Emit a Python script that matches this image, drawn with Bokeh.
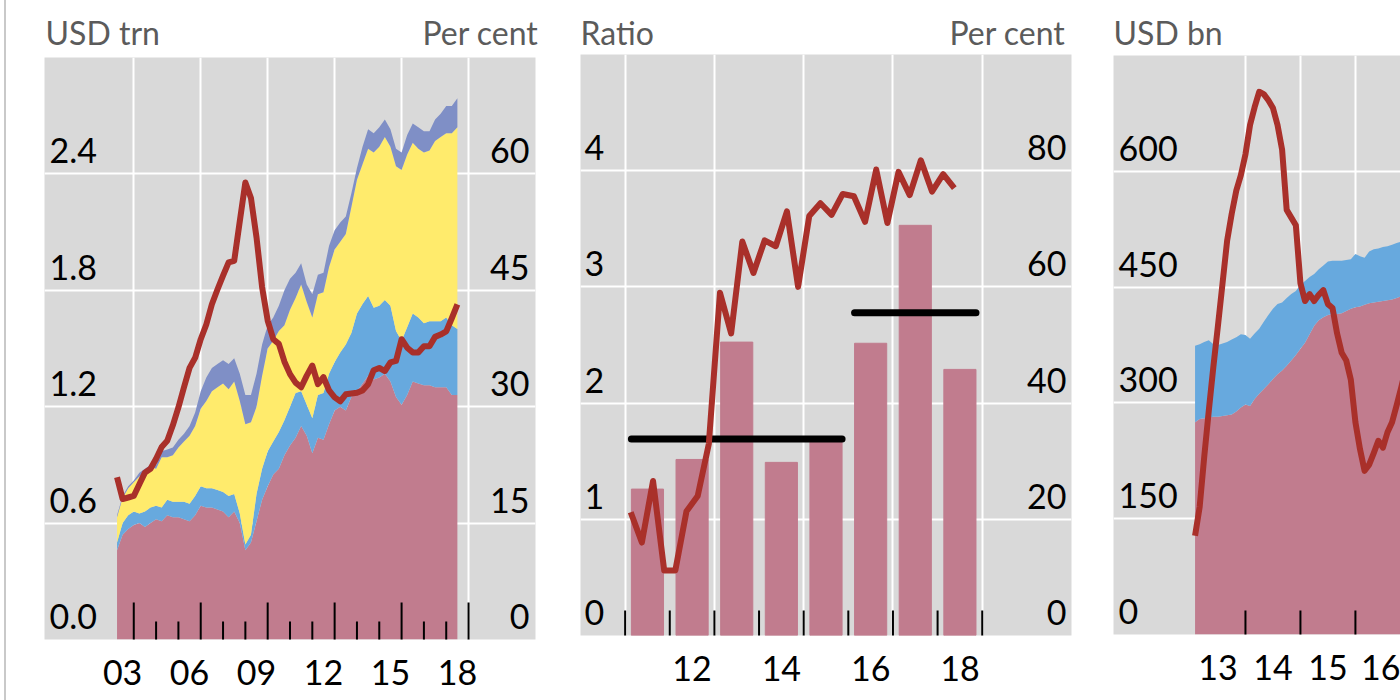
import math

from bokeh.plotting import figure
from bokeh.models import (Range1d, LinearAxis, FixedTicker, ColumnDataSource,
                          Spacer, Grid)
from bokeh.layouts import row, column
from bokeh.core.properties import value
from bokeh.embed import file_html
from bokeh.resources import INLINE

FONT = "Lato"
BG = "#D9D9D9"
PINK = "#C17C8E"
BLUE = "#67A9DE"
YELLOW = "#FFEB6C"
PURPLE = "#7F8FC6"
RED = "#A9302A"
TITLE_GREY = "#5B5B5B"

# ---------------- Panel 1: quarterly stock (USD trn) and share (per cent) ----------------
P1_FIRST_YEAR = 2003
P1_QUARTERS = [(P1_FIRST_YEAR + i // 4, i % 4 + 1) for i in range(62)]  # 2003Q1 .. 2018Q2
P1_PINK = [0.46, 0.54, 0.57, 0.59, 0.60, 0.58, 0.60, 0.62, 0.61, 0.64,
           0.63, 0.63, 0.62, 0.61, 0.64, 0.69, 0.68, 0.68, 0.67, 0.66,
           0.63, 0.66, 0.60, 0.46, 0.50, 0.61, 0.72, 0.79, 0.85, 0.88,
           0.95, 1.00, 1.04, 1.10, 1.05, 0.96, 1.04, 1.03, 1.11, 1.18,
           1.20, 1.18, 1.25, 1.28, 1.32, 1.36, 1.34, 1.35, 1.37, 1.33,
           1.25, 1.21, 1.26, 1.33, 1.32, 1.31, 1.31, 1.30, 1.30, 1.30,
           1.26, 1.26]
P1_BLUE = [0.04, 0.06, 0.07, 0.07, 0.05, 0.08, 0.08, 0.07, 0.07, 0.08,
           0.08, 0.08, 0.09, 0.09, 0.10, 0.10, 0.10, 0.10, 0.10, 0.10,
           0.11, 0.09, 0.05, 0.03, 0.04, 0.14, 0.16, 0.18, 0.17, 0.19,
           0.18, 0.20, 0.23, 0.18, 0.16, 0.18, 0.22, 0.24, 0.26, 0.25,
           0.28, 0.34, 0.33, 0.40, 0.41, 0.41, 0.37, 0.37, 0.38, 0.39,
           0.34, 0.33, 0.35, 0.35, 0.34, 0.32, 0.33, 0.34, 0.34, 0.36,
           0.36, 0.34]
P1_YELLOW = [0.13, 0.13, 0.14, 0.15, 0.19, 0.20, 0.21, 0.19, 0.26, 0.22,
             0.24, 0.28, 0.31, 0.35, 0.36, 0.40, 0.45, 0.50, 0.53, 0.56,
             0.55, 0.58, 0.58, 0.62, 0.58, 0.45, 0.48, 0.53, 0.52, 0.52,
             0.49, 0.50, 0.49, 0.55, 0.53, 0.52, 0.52, 0.52, 0.55, 0.58,
             0.57, 0.57, 0.65, 0.69, 0.72, 0.76, 0.80, 0.82, 0.84, 0.82,
             0.85, 0.88, 0.89, 0.88, 0.87, 0.88, 0.88, 0.93, 0.95, 0.95,
             0.99, 1.04]
P1_PURPLE = [0.01, 0.01, 0.01, 0.01, 0.02, 0.02, 0.01, 0.02, 0.03, 0.04,
             0.04, 0.04, 0.04, 0.05, 0.07, 0.09, 0.12, 0.12, 0.12, 0.12,
             0.13, 0.12, 0.14, 0.15, 0.14, 0.17, 0.16, 0.12, 0.12, 0.13,
             0.18, 0.16, 0.13, 0.11, 0.09, 0.12, 0.10, 0.10, 0.11, 0.10,
             0.10, 0.09, 0.07, 0.06, 0.09, 0.10, 0.10, 0.10, 0.09, 0.09,
             0.09, 0.09, 0.10, 0.10, 0.11, 0.11, 0.10, 0.11, 0.12, 0.14,
             0.14, 0.15]
P1_SHARE = [20.9, 18.1, 18.3, 18.5, 20.0, 21.5, 22.0, 23.3, 24.8, 25.6,
            27.6, 29.9, 32.5, 35.0, 36.3, 38.7, 40.6, 43.2, 45.1, 46.9,
            48.6, 48.8, 53.9, 58.9, 56.9, 51.8, 45.4, 41.1, 38.7, 38.1,
            35.8, 34.2, 33.1, 32.5, 34.0, 35.3, 32.9, 33.8, 32.1, 31.2,
            30.7, 31.6, 31.7, 31.8, 32.1, 32.9, 34.7, 35.0, 34.6, 35.7,
            35.9, 38.7, 37.6, 37.0, 37.0, 37.8, 37.8, 39.0, 39.3, 39.7,
            41.4, 43.2]
P1_LEFT_TICKS = [0.0, 0.6, 1.2, 1.8, 2.4]
P1_LEFT_LABELS = ["0.0", "0.6", "1.2", "1.8", "2.4"]
P1_RIGHT_TICKS = [0, 15, 30, 45, 60]
P1_RIGHT_LABELS = ["0", "15", "30", "45", "60"]
P1_YEAR_LABELS = ["03", "06", "09", "12", "15", "18"]

# ---------------- Panel 2: quarterly ratio and annual shares ----------------
P2_QUARTERS = [(2011 + i // 4, i % 4 + 1) for i in range(30)]  # 2011Q1 .. 2018Q2
P2_RATIO = [1.06, 0.80, 1.33, 0.56, 0.56, 1.07, 1.20, 1.65, 2.95, 2.60,
            3.39, 3.12, 3.40, 3.35, 3.65, 3.00, 3.61, 3.72, 3.62, 3.80,
            3.78, 3.56, 4.01, 3.55, 3.99, 3.79, 4.09, 3.82, 3.97, 3.85]
P2_BAR_YEARS = [2011, 2012, 2013, 2014, 2015, 2016, 2017, 2018]
P2_BAR_PCT = [25.2, 30.3, 50.5, 29.8, 33.4, 50.3, 70.6, 45.8]
P2_PERIODS = [(2011, 2015), (2016, 2018)]  # periods averaged by the black lines
P2_LEFT_TICKS = [0, 1, 2, 3, 4]
P2_LEFT_LABELS = ["0", "1", "2", "3", "4"]
P2_RIGHT_TICKS = [0, 20, 40, 60, 80]
P2_RIGHT_LABELS = ["0", "20", "40", "60", "80"]
P2_YEAR_LABELS = ["12", "14", "16", "18"]

# ---------------- Panel 3: monthly amounts (USD bn) ----------------
P3_MONTHS = [(2013 + i // 12, i % 12 + 1) for i in range(48)]  # Jan 2013 .. Dec 2016
P3_PINK = [275, 279, 280, 281, 282, 282, 283, 284, 285, 289,
           294, 298, 296, 305, 312, 318, 324, 331, 337, 342,
           348, 355, 362, 370, 378, 389, 400, 407, 411, 414,
           415, 415, 416, 419, 422, 424, 425, 427, 429, 430,
           431, 432, 433, 434, 436, 438, 440, 441]
P3_BLUE = [99, 97, 99, 100, 94, 93, 94, 95, 97, 96,
           95, 90, 87, 85, 84, 87, 90, 91, 91, 88,
           88, 86, 83, 83, 80, 74, 67, 66, 67, 69,
           69, 69, 68, 66, 64, 69, 65, 61, 67, 69,
           69, 70, 70, 71, 71, 71, 71, 72]
P3_LINE = [128, 165, 230, 290, 347, 400, 455, 510, 545, 575,
           595, 622, 660, 683, 703, 700, 692, 682, 660, 628,
           550, 540, 530, 455, 432, 441, 432, 440, 446, 428,
           423, 390, 365, 355, 330, 275, 240, 212, 220, 235,
           251, 242, 262, 275, 297, 320, 345, 370]
P3_LEFT_TICKS = [0, 150, 300, 450, 600]
P3_LEFT_LABELS = ["0", "150", "300", "450", "600"]
P3_YEAR_LABELS = ["13", "14", "15", "16", "17"]

# ---------------- layout constants (pixels) ----------------
PAGE_H = 700
INDENT = 6          # white gap plus the thin rule at the left edge
HEADER_H = 54       # strip holding the unit captions
CAPTION_MID = 33    # vertical middle of the captions, from the page top
FRAME_W = 491
W1, TOP1, BOT1, L1, R1 = 552, 57, 639, 38, 23
W2, TOP2, BOT2, L2, R2 = 532, 54, 635, 22, 19
W3, TOP3, BOT3, L3 = 310, 55, 634, 23


def header():
    width = W1 + W2 + W3
    h = figure(width=width, height=HEADER_H,
               x_range=Range1d(0, width), y_range=Range1d(0, HEADER_H),
               x_axis_type=None, y_axis_type=None, title=None,
               toolbar_location=None, output_backend="svg",
               background_fill_color="white", border_fill_color="white",
               outline_line_color=None, min_border=0)
    items = [
        (L1 + 1, "USD trn", "left"),
        (L1 + FRAME_W + 3, "Per cent", "right"),
        (W1 + L2, "Ratio", "left"),
        (W1 + L2 + FRAME_W - 6, "Per cent", "right"),
        (W1 + W2 + L3, "USD bn", "left"),
    ]
    h.text(x=[it[0] for it in items], y=[HEADER_H - CAPTION_MID + 1] * len(items),
           text=[it[1] for it in items], text_align=[it[2] for it in items],
           text_baseline="alphabetic", text_font=value(FONT),
           text_font_size="32px", text_color=TITLE_GREY)
    return h


def panel(width, x_range, y_range, border_left, border_right, frame_top, frame_bottom):
    return figure(width=width, height=PAGE_H - HEADER_H,
                  x_range=x_range, y_range=y_range,
                  x_axis_type=None, y_axis_type=None, title=None,
                  toolbar_location=None, output_backend="svg",
                  background_fill_color=BG, border_fill_color="white",
                  outline_line_color=None,
                  min_border_left=border_left, min_border_right=border_right,
                  min_border_top=frame_top - HEADER_H,
                  min_border_bottom=PAGE_H - frame_bottom)


def add_grid(p, xs, ys):
    p.add_layout(Grid(dimension=0, ticker=FixedTicker(ticks=xs),
                      grid_line_color="white", grid_line_width=2))
    p.add_layout(Grid(dimension=1, ticker=FixedTicker(ticks=ys),
                      grid_line_color="white", grid_line_width=2))


def add_year_ticks(p, years, length):
    # vertical dashes centred on the bottom edge; the frame clips the lower half
    p.scatter(x=years, y=[p.y_range.start] * len(years), marker="dash",
              size=2 * length, angle=math.pi / 2,
              line_color="black", line_width=2)


def add_year_labels(p, label_years, labels, standoff):
    positions = [y + 0.5 for y in label_years]
    axis = LinearAxis(ticker=FixedTicker(ticks=positions, minor_ticks=[]),
                      major_label_overrides={pos: lab for pos, lab in zip(positions, labels)},
                      axis_line_color=None,
                      major_tick_line_color=None, minor_tick_line_color=None,
                      major_tick_in=0, major_tick_out=0,
                      major_label_standoff=standoff,
                      major_label_text_font=FONT,
                      major_label_text_font_size="34px",
                      major_label_text_color="black")
    p.add_layout(axis, "below")


def add_value_labels(p, x, ticks, labels, align, x_off, range_name="default"):
    p.text(x=[x] * len(ticks), y=ticks, text=labels,
           text_align=align, text_baseline="alphabetic",
           x_offset=x_off, y_offset=-23,
           text_font=value(FONT), text_font_size="34px", text_color="black",
           y_range_name=range_name)


# ---------------- Panel 1 ----------------
p1x = Range1d(2000, 2022)
p1y = Range1d(0, 3.0)
p1 = panel(W1, p1x, p1y, L1, R1, TOP1, BOT1)
p1.extra_y_ranges = {"pct": Range1d(0, 75)}
add_grid(p1, list(range(2004, 2020, 3)), P1_LEFT_TICKS[1:])

src1 = ColumnDataSource(dict(
    x=[y + q / 4 for y, q in P1_QUARTERS],
    pink=P1_PINK, blue=P1_BLUE, yellow=P1_YELLOW, purple=P1_PURPLE,
    share=P1_SHARE))
p1.varea_stack(stackers=["pink", "blue", "yellow", "purple"], x="x",
               color=[PINK, BLUE, YELLOW, PURPLE], source=src1)
p1.line(x="x", y="share", source=src1, line_color=RED, line_width=6,
        line_join="round", y_range_name="pct")

add_year_ticks(p1, list(range(2004, 2020, 3)), 37)
add_year_ticks(p1, [y for y in range(2005, 2019) if (y - 2004) % 3], 18)
add_year_labels(p1, list(range(2003, 2019, 3)), P1_YEAR_LABELS, 20)
add_value_labels(p1, p1x.start, P1_LEFT_TICKS, P1_LEFT_LABELS, "left", 5)
add_value_labels(p1, p1x.end, P1_RIGHT_TICKS, P1_RIGHT_LABELS, "right", -6, "pct")

# ---------------- Panel 2 ----------------
p2x = Range1d(2010, 2021)
p2y = Range1d(0, 5)
p2 = panel(W2, p2x, p2y, L2, R2, TOP2, BOT2)
p2.extra_y_ranges = {"pct": Range1d(0, 100)}
add_grid(p2, list(range(2011, 2020, 2)), P2_LEFT_TICKS[1:])

bar_width = 0.72
p2.vbar(x=[y + 0.5 for y in P2_BAR_YEARS], top=P2_BAR_PCT, width=bar_width,
        color=PINK, y_range_name="pct")

avg_x0, avg_x1, avg_y = [], [], []
for first, last in P2_PERIODS:
    vals = [v for yr, v in zip(P2_BAR_YEARS, P2_BAR_PCT) if first <= yr <= last]
    avg_x0.append(first + 0.5 - bar_width / 2)
    avg_x1.append(last + 0.5 + bar_width / 2)
    avg_y.append(sum(vals) / len(vals))
p2.segment(x0=avg_x0, y0=avg_y, x1=avg_x1, y1=avg_y, line_color="black",
           line_width=7, line_cap="round", y_range_name="pct")

p2.line(x=[y + (q - 0.5) / 4 for y, q in P2_QUARTERS], y=P2_RATIO,
        line_color=RED, line_width=6, line_join="round")

add_year_ticks(p2, list(range(2011, 2020)), 25)
add_year_labels(p2, list(range(2012, 2019, 2)), P2_YEAR_LABELS, 20)
add_value_labels(p2, p2x.start, P2_LEFT_TICKS, P2_LEFT_LABELS, "left", 4)
add_value_labels(p2, p2x.end, P2_RIGHT_TICKS, P2_RIGHT_LABELS, "right", -5, "pct")

# ---------------- Panel 3 ----------------
p3x = Range1d(2011.6, 2016.82)
p3y = Range1d(0, 750)
p3 = panel(W3, p3x, p3y, L3, 0, TOP3, BOT3)
add_grid(p3, list(range(2014, 2021)), P3_LEFT_TICKS[1:])

src3 = ColumnDataSource(dict(
    x=[y + m / 12 for y, m in P3_MONTHS],
    pink=P3_PINK, blue=P3_BLUE, line=P3_LINE))
p3.varea_stack(stackers=["pink", "blue"], x="x", color=[PINK, BLUE], source=src3)
p3.line(x="x", y="line", source=src3, line_color=RED, line_width=6,
        line_join="round")

add_year_ticks(p3, list(range(2014, 2021)), 24)
add_year_labels(p3, list(range(2013, 2018)), P3_YEAR_LABELS, 20)
add_value_labels(p3, p3x.start, P3_LEFT_TICKS, P3_LEFT_LABELS, "left", 5)

# each panel sits in its own column so that its frame keeps its own edges
layout = row(Spacer(width=INDENT - 2, height=PAGE_H),
             Spacer(width=2, height=PAGE_H, styles={"background-color": "#C9C9C9"}),
             column(header(), row(column(p1), column(p2), column(p3))))

open("out.html", "w").write(file_html(layout, INLINE))
